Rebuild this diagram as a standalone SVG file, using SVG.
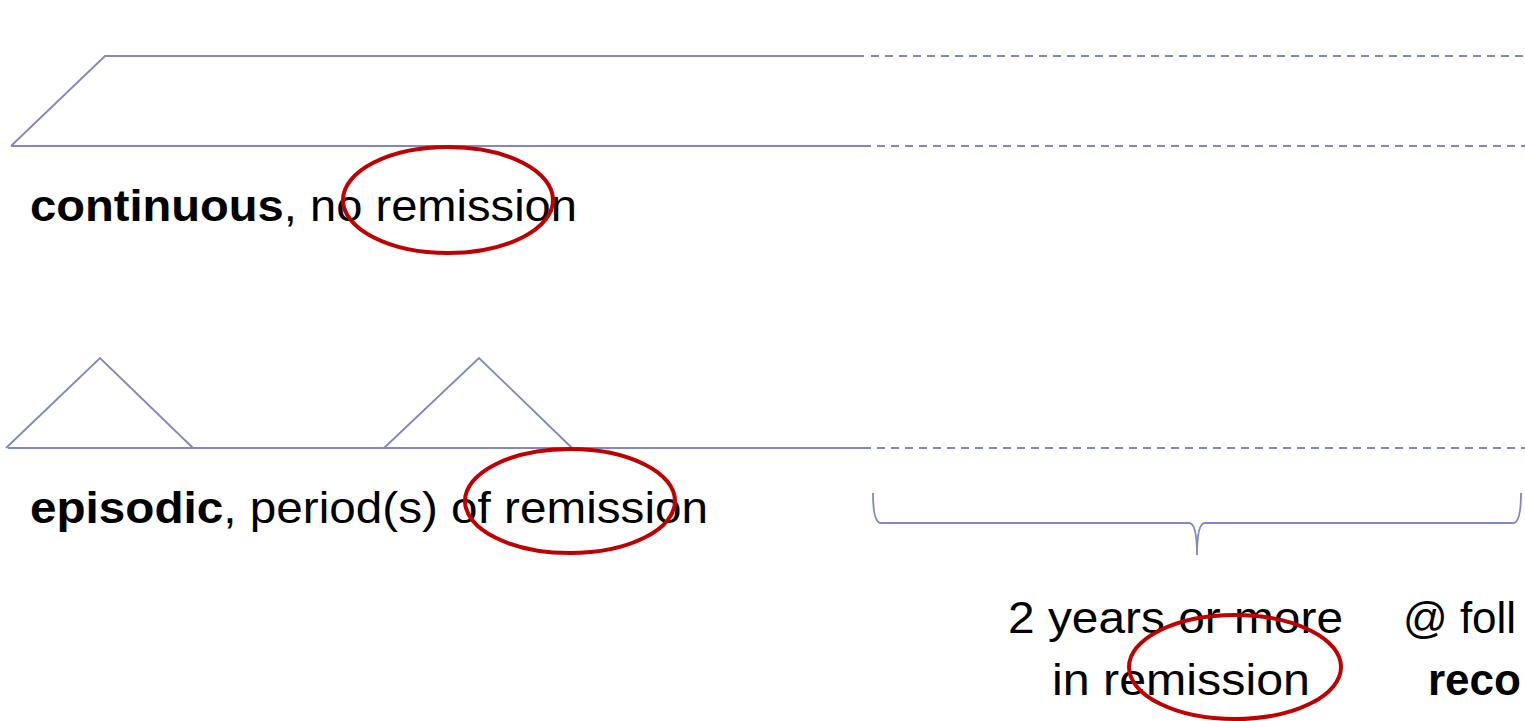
<svg xmlns="http://www.w3.org/2000/svg" width="1525" height="721" viewBox="0 0 1525 721">
  <style>
    .ln { fill: none; stroke: #7F87C4; stroke-width: 1.8; }
    .dash { stroke-dasharray: 8 6; }
    .ring { fill: none; stroke: #C00000; stroke-width: 4; }
    .lbl { font-family: "Liberation Sans", Arial, sans-serif; font-size: 44px; fill: #000; }
    .b { font-weight: bold; }
  </style>
  <rect width="1525" height="721" fill="#fff"/>

  <!-- course shapes -->
  <g id="connectors">
    <!-- continuous course -->
    <polyline class="ln" points="11,146 105,56 864,56"/>
    <line class="ln dash" x1="871" y1="56" x2="1525" y2="56"/>
    <line class="ln" x1="11" y1="146" x2="871" y2="146"/>
    <line class="ln dash" x1="877" y1="146" x2="1525" y2="146"/>
    <!-- episodic course -->
    <polyline class="ln" points="6,448 100,358 193,448"/>
    <polyline class="ln" points="384,448 479,358 572,448"/>
    <line class="ln" x1="8" y1="448" x2="871" y2="448"/>
    <line class="ln dash" x1="877" y1="448" x2="1525" y2="448"/>
    <!-- brace -->
    <path class="ln" d="M873,493 Q873,523 881,523 L1189,523 Q1197,523 1197,555 Q1197,523 1205,523 L1513,523 Q1521,523 1521,493"/>
  </g>

  <g id="continuous">
    <text class="lbl" x="30" y="221" textLength="547" lengthAdjust="spacingAndGlyphs"><tspan class="b">continuous</tspan>, no remission</text>
    <ellipse class="ring" cx="448" cy="200" rx="105" ry="53"/>
  </g>

  <g id="episodic">
    <text class="lbl" x="30" y="523" textLength="678" lengthAdjust="spacingAndGlyphs"><tspan class="b">episodic</tspan>, period(s) of remission</text>
    <ellipse class="ring" cx="570" cy="501" rx="105" ry="52"/>
  </g>

  <g id="remission-period">
    <text class="lbl" x="1008" y="633" textLength="335" lengthAdjust="spacingAndGlyphs">2 years or more</text>
    <text class="lbl" x="1052" y="695" textLength="258" lengthAdjust="spacingAndGlyphs">in remission</text>
    <ellipse class="ring" cx="1235" cy="667" rx="106" ry="52"/>
  </g>

  <g id="follow-up">
    <text class="lbl" x="1403" y="633">@ foll</text>
    <text class="lbl b" x="1428" y="695">reco</text>
  </g>
</svg>
